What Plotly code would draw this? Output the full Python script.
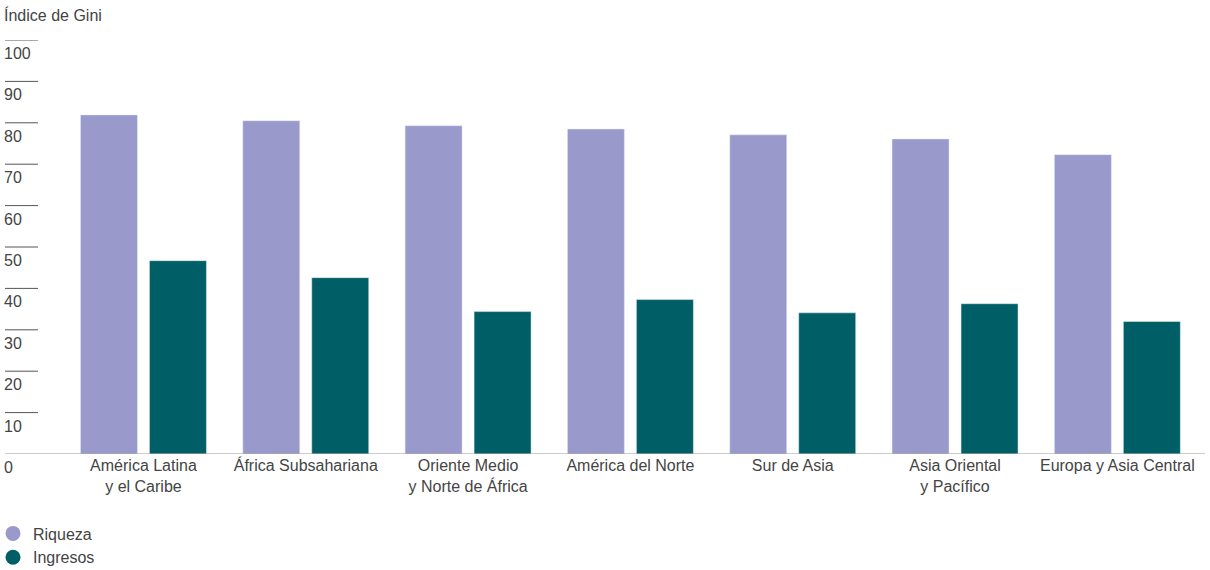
import plotly.graph_objects as go

categories = ["América Latina<br>y el Caribe", "África Subsahariana", "Oriente Medio<br>y Norte de África",
              "América del Norte", "Sur de Asia", "Asia Oriental<br>y Pacífico", "Europa y Asia Central"]
riqueza = [81.9, 80.5, 79.3, 78.5, 77.1, 76.1, 72.3]
ingresos = [46.7, 42.6, 34.4, 37.3, 34.1, 36.3, 32.0]
ytick_vals = [0, 10, 20, 30, 40, 50, 60, 70, 80, 90, 100]
ytick_text = [str(v) for v in ytick_vals]

C_RIQ = "#9999CC"
C_ING = "#005F66"
TXT = "#444444"
FONT = "Liberation Sans, Arial, sans-serif"

idx = list(range(len(categories)))

fig = go.Figure()
fig.add_trace(go.Bar(x=idx, y=riqueza, name="Riqueza", marker_color=C_RIQ, showlegend=False))
fig.add_trace(go.Bar(x=idx, y=ingresos, name="Ingresos", marker_color=C_ING, showlegend=False))
fig.add_trace(go.Scatter(x=[None], y=[None], mode="markers", name="Riqueza",
                         marker=dict(color=C_RIQ, size=15, symbol="circle")))
fig.add_trace(go.Scatter(x=[None], y=[None], mode="markers", name="Ingresos",
                         marker=dict(color=C_ING, size=15, symbol="circle")))

shapes = []
annotations = []
for v, t in zip(ytick_vals, ytick_text):
    if v > 0:
        shapes.append(dict(type="line", xref="paper", yref="y", x0=0, x1=0.0275, y0=v, y1=v,
                           line=dict(color="#555555", width=1)))
    annotations.append(dict(x=0, xref="paper", y=v, yref="y", text=t, showarrow=False,
                            xanchor="left", yanchor="top", yshift=-3, xshift=-3,
                            font=dict(size=16, color=TXT, family=FONT)))
shapes.append(dict(type="line", xref="paper", yref="y", x0=0, x1=1, y0=0, y1=0,
                   line=dict(color="#999999", width=1.2)))
annotations.append(dict(x=0, xref="paper", y=1, yref="paper", text="Índice de Gini", showarrow=False,
                        xanchor="left", yanchor="middle", yshift=25, xshift=-3,
                        font=dict(size=16, color=TXT, family=FONT)))

fig.update_layout(
    width=1210, height=570,
    margin=dict(l=5, r=5, t=40, b=116, autoexpand=False),
    paper_bgcolor="white", plot_bgcolor="white",
    barmode="group", bargap=0.15, bargroupgap=0.174,
    font=dict(family=FONT, size=16, color=TXT),
    xaxis=dict(range=[-0.853, 6.54], tickvals=idx, ticktext=categories, showgrid=False,
               zeroline=False, showline=False, ticks="", tickfont=dict(size=16, color=TXT)),
    yaxis=dict(range=[0, 100], showgrid=False, zeroline=False, showticklabels=False,
               showline=False, ticks=""),
    shapes=shapes, annotations=annotations,
    legend=dict(x=-0.01, xanchor="left", y=-0.151, yanchor="top", orientation="v",
                font=dict(size=16, color=TXT, family=FONT), tracegroupgap=0, itemsizing="trace",
                bgcolor="rgba(0,0,0,0)"),
)

fig.write_html("out.html", config={"displayModeBar": False},
               post_script="document.body.style.margin='0';document.body.style.padding='0';")
